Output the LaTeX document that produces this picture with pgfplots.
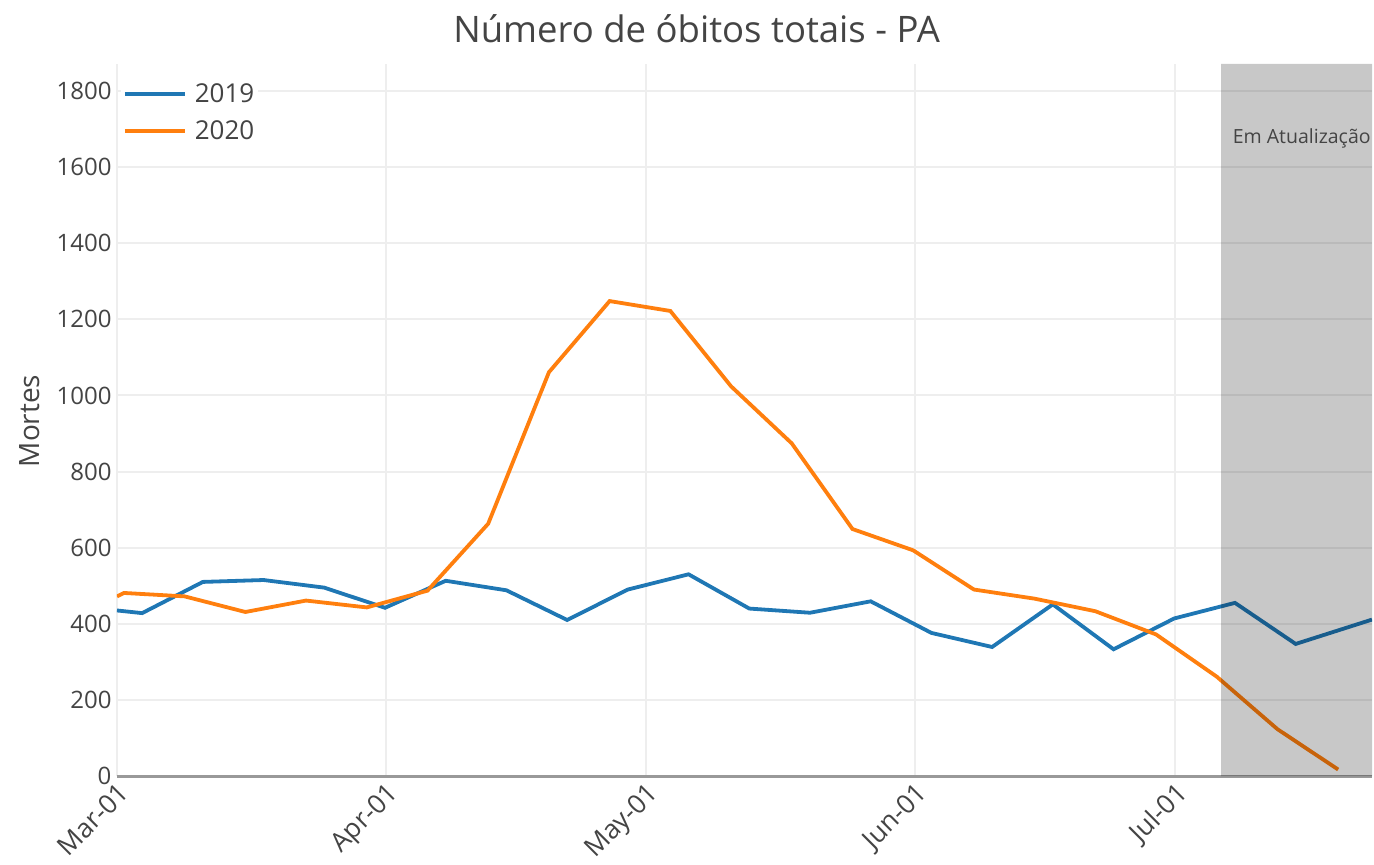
\documentclass[border=0pt]{standalone}
\usepackage{pgfplots}
\pgfplotsset{compat=1.18}
\usepackage{fontspec}
\setmainfont{Open Sans}
\definecolor{c2019}{HTML}{1F77B4}
\definecolor{c2020}{HTML}{FF7F0E}
\definecolor{txt}{HTML}{444444}
\definecolor{gridc}{HTML}{EEEEEE}
\definecolor{zeroc}{HTML}{999999}
\begin{document}
\begin{tikzpicture}
\useasboundingbox (0,0) rectangle (1374pt,865pt);
\begin{axis}[
 at={(117pt,89pt)}, anchor=south west,
 width=1255pt, height=712pt, scale only axis,
 xmin=0, xmax=144.7, ymin=0, ymax=1871,
 xtick={0,31,61,92,122},
 xticklabels={Mar-01,Apr-01,May-01,Jun-01,Jul-01},
 ytick={0,200,...,1800},
 grid=major,
 major grid style={color=gridc, line width=2pt},
 axis x line*=bottom, axis y line*=left,
 x axis line style={color=zeroc, line width=3pt},
 y axis line style={draw=none},
 major tick length=0pt,
 tick style={draw=none},
 ticklabel style={font=\fontsize{24}{28}\selectfont, text=txt},
 yticklabel style={xshift=-2pt},
 /pgf/number format/assume math mode=true,
 /pgf/number format/1000 sep={},
 xticklabel style={rotate=45, anchor=north east, font=\fontsize{26.5}{30}\selectfont},
 ylabel={Mortes},
 ylabel style={font=\fontsize{28}{32}\selectfont, text=txt, at={(axis description cs:-0.0693,0.4986)}, anchor=center},
 title={Número de óbitos totais - PA},
 title style={font=\fontsize{36.5}{42}\selectfont, text=txt, at={(axis description cs:0.4618,1.022)}, anchor=base},
 legend style={at={(axis description cs:0.003,0.978)}, anchor=north west, draw=none, fill=white,
   font=\fontsize{26}{30}\selectfont, text=txt, inner sep=2pt, row sep=12.5pt},
 legend cell align=left,
 legend image code/.code={\draw[#1, line width=4pt] (0pt,0pt) -- (60pt,0pt); \path (66pt,0pt);},
]
\addplot[c2019, line width=3.8pt] coordinates {
(0,435) (2.9,428) (9.9,510) (16.9,515) (23.9,495) (30.9,442) (37.9,513)
(44.9,488) (51.9,410) (58.9,490) (65.9,530) (72.9,440) (79.9,429) (86.9,459)
(93.9,376) (100.9,339) (107.9,451) (114.9,333) (121.9,414) (128.9,455)
(135.9,347) (144.7,411)};
\addlegendentry{2019}
\addplot[c2020, line width=3.8pt] coordinates {
(0,472) (0.8,481) (7.8,472) (14.8,431) (21.8,461) (28.8,443) (35.8,487)
(42.8,663) (49.8,1061) (56.8,1248) (63.8,1222) (70.8,1024) (77.8,874)
(84.8,649) (91.8,593) (98.8,490) (105.8,466) (112.8,433) (119.8,372)
(126.8,261) (133.8,123) (140.8,17)};
\addlegendentry{2020}
\addplot[fill=black, fill opacity=0.215, draw=none, forget plot] coordinates {
(127.3,0) (127.3,1871) (144.7,1871) (144.7,0)} \closedcycle;
\node[font=\fontsize{19.5}{23}\selectfont, text=txt] at (axis cs:136.6,1676) {Em Atualização};
\end{axis}
\end{tikzpicture}
\end{document}
